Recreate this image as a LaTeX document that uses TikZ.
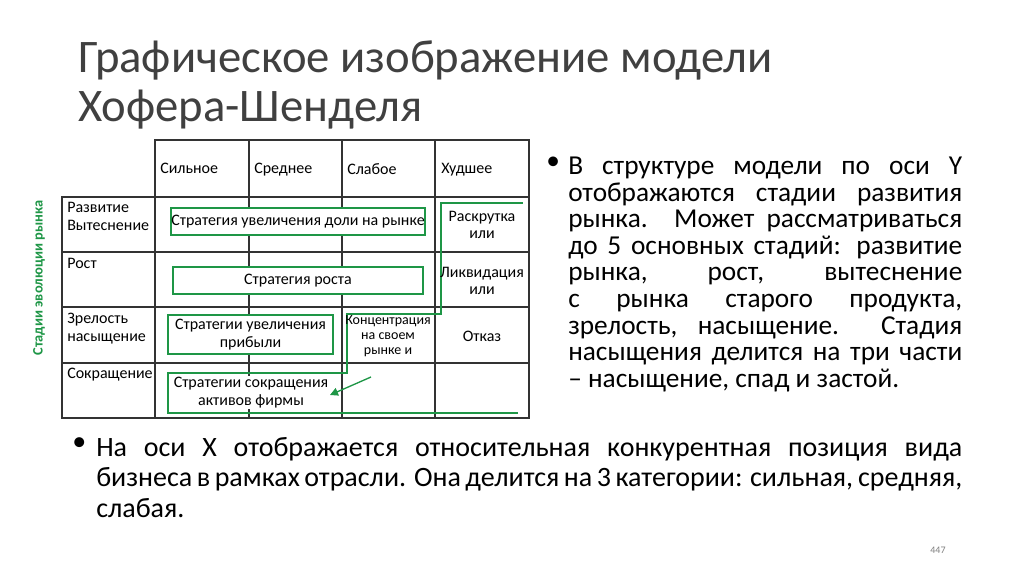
\documentclass[tikz,border=0pt]{standalone}
\usepackage{fontspec}
\setmainfont{Carlito}
\usetikzlibrary{arrows.meta}
\definecolor{grn}{RGB}{30,150,70}
\tikzset{
  cell/.style={font=\fontsize{12}{13.2}\selectfont,align=left,anchor=north west,inner sep=0pt},
  ctext/.style={font=\fontsize{12}{13.2}\selectfont,align=center,inner sep=0pt},
  gbox/.style={draw=grn,line width=1.2pt,fill=white},
}
\begin{document}
\begin{tikzpicture}[x=0.75pt,y=-0.75pt]
\useasboundingbox (0,0) rectangle (1024,574);
\fill[white] (0,0) rectangle (1024,574);
\node[anchor=west,inner sep=0pt,align=left,font=\fontsize{35}{36.5}\selectfont,text=black!75] (title) at (78,85) {Графическое изображение модели\\Хофера-Шенделя};
% grid
\draw[line width=1pt,black!80] (155,140) rectangle (529,418);
\draw[line width=1pt,black!80] (62,197) rectangle (529,418);
\foreach \x in {249,342,435} \draw[line width=1pt,black!80] (\x,140) -- (\x,418);
\foreach \y in {252,307,363} \draw[line width=1pt,black!80] (62,\y) -- (529,\y);
% headers
\node[cell] (h1) at (160,163) {Сильное};
\node[cell] (h2) at (254,163) {Среднее};
\node[cell] (h3) at (347,163) {Слабое};
\node[cell] (h4) at (441,163) {Худшее};
\node[cell] (r1) at (67,202) {Развитие\\Вытеснение};
\node[cell] (r2) at (67,258) {Рост};
\node[cell] (r3) at (67,313) {Зрелость\\насыщение};
\node[cell] (r4) at (67,368) {Сокращение};
\node[rotate=90,text=grn,font=\bfseries\fontsize{10.8}{12}\selectfont] (ax) at (39,278) {Стадии эволюции рынка};
% green path
\draw[grn,line width=1.2pt] (518,413) -- (168,413) -- (168,373) -- (347,373) -- (347,314) -- (441,314) -- (441,203) -- (523,203);
% boxes
\node[gbox,ctext,minimum width=250*0.75pt,minimum height=27*0.75pt] (b1) at (298,221.5) {Стратегия увеличения доли на рынке};
\node[gbox,ctext,minimum width=250*0.75pt,minimum height=27*0.75pt] (b2) at (298,280.5) {Стратегия роста};
\node[gbox,ctext,minimum width=165*0.75pt,minimum height=39*0.75pt] (b3) at (250.5,334.5) {Стратегии увеличения\\прибыли};
\node[ctext,fill=white,inner sep=1pt] (b4) at (251,392.5) {Стратегии сокращения\\активов фирмы};
\node[ctext] (c1) at (482,225) {Раскрутка\\или};
\node[ctext] (c2) at (482,281) {Ликвидация\\или};
\node[ctext] (c3) at (482,336) {Отказ};
\node[ctext,font=\fontsize{10.5}{11.2}\selectfont] (c4) at (388,336) {Концентрация\\на своем\\рынке и};
\coordinate (as) at (371,377);
\draw[grn,line width=1pt,-{Triangle[length=6pt,width=6pt]}] (as) -- (330,395);
% bullets
\node[anchor=north west,inner sep=0pt,font=\fontsize{20.5}{20}\selectfont] (d1) at (546,157) {•};
\node[anchor=north west,inner sep=0pt,text width=394*0.75pt,align=justify,font=\fontsize{20.5}{19.9}\selectfont] (t1) at (568,157) {В структуре модели по оси Y отображаются стадии развития рынка. Может рассматриваться до 5 основных стадий: развитие рынка, рост, вытеснение с рынка старого продукта, зрелость, насыщение. Стадия насыщения делится на три части – насыщение, спад и застой.};
\node[anchor=north west,inner sep=0pt,font=\fontsize{21}{22}\selectfont] (d2) at (72,437) {•};
\node[anchor=north west,inner sep=0pt,text width=866*0.75pt,align=justify,font=\fontsize{21}{23}\selectfont] (t2) at (96,437) {На оси X отображается относительная конкурентная позиция вида бизнеса в рамках отрасли. Она делится на 3 категории: сильная, средняя, слабая.};
\node[text=black!50,font=\fontsize{7.5}{9}\selectfont] (pg) at (938,550) {447};
\end{tikzpicture}
\end{document}
